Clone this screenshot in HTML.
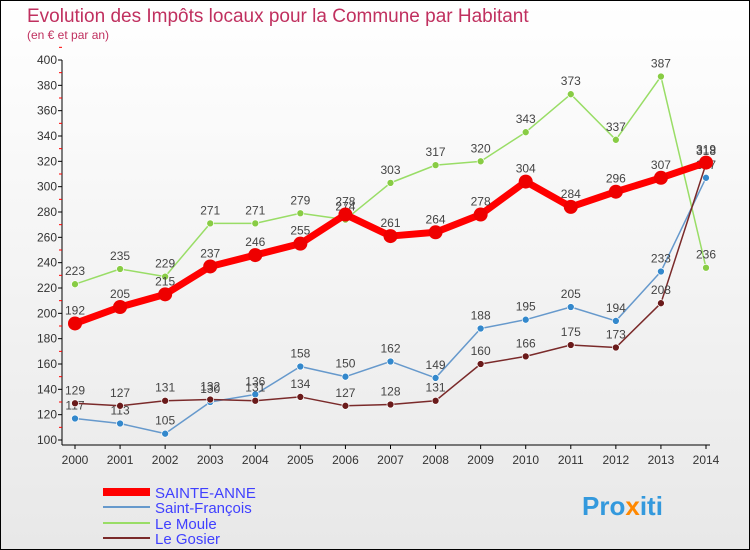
<!DOCTYPE html>
<html><head><meta charset="utf-8"><style>
body{margin:0;width:750px;height:550px;overflow:hidden;font-family:"Liberation Sans",sans-serif}
svg{display:block}
</style></head><body>
<svg id="c" width="750" height="550" xmlns="http://www.w3.org/2000/svg">
<defs><linearGradient id="bg" x1="0" y1="0" x2="0" y2="1"><stop offset="0" stop-color="#ffffff"/><stop offset="1" stop-color="#e8e8e8"/></linearGradient></defs>
<rect x="0.5" y="0.5" width="749" height="549" fill="url(#bg)" stroke="#000"/>
<text x="27" y="22" font-size="19" fill="#c0305f">Evolution des Impôts locaux pour la Commune par Habitant</text>
<text x="27" y="39" font-size="12" fill="#c0305f">(en € et par an)</text>
<g id="axes"></g><g id="series"></g>
<g>
<line x1="103" y1="492" x2="150" y2="492" stroke="#ff0000" stroke-width="8"/>
<text x="155" y="498" font-size="15" fill="#4040ff">SAINTE-ANNE</text>
<line x1="103" y1="507" x2="150" y2="507" stroke="#6699cc" stroke-width="2"/>
<text x="155" y="513" font-size="15" fill="#4040ff">Saint-François</text>
<line x1="103" y1="523" x2="150" y2="523" stroke="#99dd66" stroke-width="2"/>
<text x="155" y="529" font-size="15" fill="#4040ff">Le Moule</text>
<line x1="103" y1="538" x2="150" y2="538" stroke="#7a2a2a" stroke-width="2"/>
<text x="155" y="544" font-size="15" fill="#4040ff">Le Gosier</text>
</g>
<text x="582" y="515" font-size="26" font-weight="bold" fill="#3399dd">Pro<tspan fill="#ff8800">x</tspan>iti</text>
</svg>
<script>
const years=[2000,2001,2002,2003,2004,2005,2006,2007,2008,2009,2010,2011,2012,2013,2014];
const yTicks=[100,120,140,160,180,200,220,240,260,280,300,320,340,360,380,400];
const sainteAnne=[192,205,215,237,246,255,278,261,264,278,304,284,296,307,319];
const saintFrancois=[117,113,105,130,136,158,150,162,149,188,195,205,194,233,307];
const leMoule=[223,235,229,271,271,279,274,303,317,320,343,373,337,387,236];
const leGosier=[129,127,131,132,131,134,127,128,131,160,166,175,173,208,318];
const NS="http://www.w3.org/2000/svg";
const X=i=>75+i*(706-75)/14;
const Y=v=>440-(v-100)*380/300;
function mk(t,a,p){const e=document.createElementNS(NS,t);for(const k in a)e.setAttribute(k,a[k]);p.appendChild(e);return e;}
const ax=document.getElementById('axes');
const yl=mk('line',{x1:62,y1:60,x2:62,y2:445,stroke:'#000'},ax);


const xl=mk('line',{x1:62,y1:445,x2:710,y2:445,stroke:'#000'},ax);


yTicks.forEach(v=>{
 mk('line',{x1:58,y1:Y(v),x2:62,y2:Y(v),stroke:'#000'},ax);
 mk('line',{x1:59,y1:Y(v+10),x2:62,y2:Y(v+10),stroke:'#f00'},ax);
 const t=mk('text',{x:57,y:Y(v)+4,'font-size':12,'text-anchor':'end',fill:'#333'},ax);t.textContent=v;
 
 
});
years.forEach((y,i)=>{
 mk('line',{x1:X(i),y1:445,x2:X(i),y2:449,stroke:'#000'},ax);
 const t=mk('text',{x:X(i),y:464,'font-size':12,'text-anchor':'middle',fill:'#333'},ax);t.textContent=y;
 
 
});
const sg=document.getElementById('series');
function draw(vals,color,w,r,dot,name){
 const g=mk('g',{},sg);
 
 
 mk('polyline',{points:vals.map((v,i)=>X(i)+','+Y(v)).join(' '),fill:'none',stroke:color,'stroke-width':w,'stroke-linejoin':'round'},g);
 vals.forEach((v,i)=>{
  const c=mk('circle',{cx:X(i),cy:Y(v),r:r,fill:dot,stroke:'#fff','stroke-width':r>4?0:0.7},g);
  
  
  const t=mk('text',{x:X(i),y:Y(v)-9,'font-size':12,'text-anchor':'middle',fill:'#444'},g);t.textContent=v;
  
  
 });
}
draw(saintFrancois,'#6699cc',1.5,3.5,'#3388cc','saint-francois');
draw(leMoule,'#99dd66',1.5,3.5,'#88cc44','le-moule');
draw(leGosier,'#7a2a2a',1.5,3.5,'#6a1a1a','le-gosier');
draw(sainteAnne,'#ff0000',7,7,'#ee0000','sainte-anne');
</script>
</body></html>
